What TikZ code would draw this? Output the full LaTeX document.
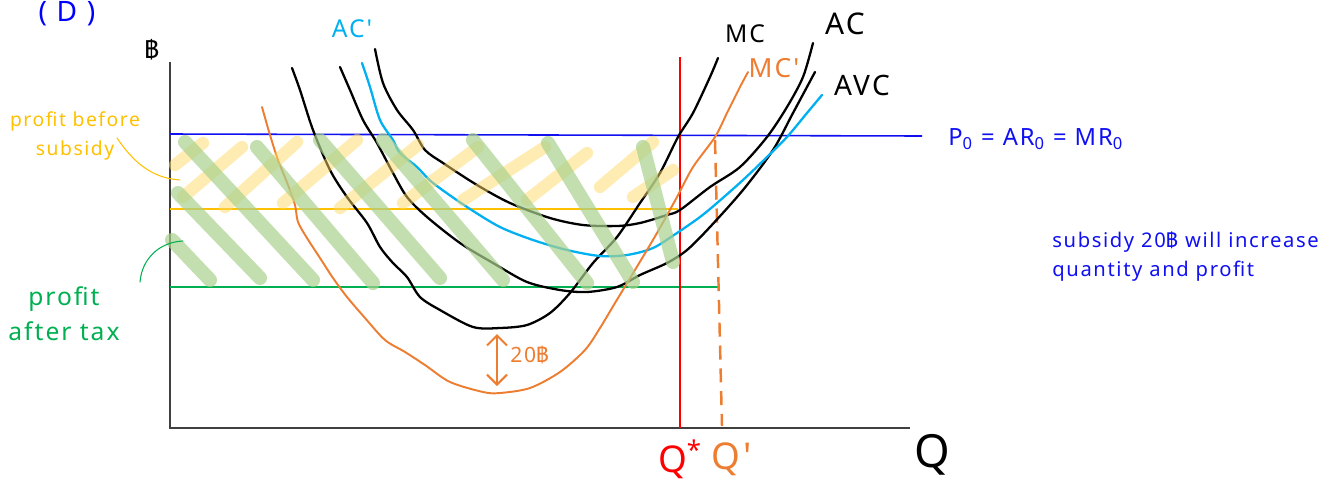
\documentclass[tikz,border=0pt]{standalone}
\usepackage{fontspec}
\setmainfont{Noto Sans}
\newfontfamily\hand[LetterSpace=8]{Noto Sans}
\newfontfamily\thaifont[Script=Thai]{Loma}
\newcommand{\baht}{{\thaifont ฿}}
\usetikzlibrary{arrows.meta}

\definecolor{pblue}{HTML}{1010F0}
\definecolor{acblue}{HTML}{00B0F0}
\definecolor{mcorange}{HTML}{ED7D31}
\definecolor{gold}{HTML}{FFC000}
\definecolor{pgreen}{HTML}{00B050}
\definecolor{hatchy}{HTML}{FFD966}
\definecolor{hatchg}{HTML}{A9D18E}
\definecolor{qred}{HTML}{FF0000}

\begin{document}
\begin{tikzpicture}[
  x=0.02cm, y=-0.02cm,
  lbl/.style={inner sep=0pt, font={\fontsize{#1}{#1}\hand}},
  axis/.style={draw=black!75, line width=1.1pt},
  cost/.style={line width=1.3pt, line join=round, line cap=round},
  level/.style={line width=1.4pt},
  hy/.style={draw=hatchy, line width=7pt, line cap=round, opacity=0.5},
  hg/.style={draw=hatchg, line width=8pt, line cap=round, opacity=0.7},
  lead/.style={line width=0.6pt, line cap=round}
]
\useasboundingbox (0,0) rectangle (1343,481);

% axes and labels
\draw[axis] (170,62) -- (170,428) -- (910,428);
\node[lbl=14] (price) at (152,50) {\baht};
\node[lbl=26] (qty) at (932,455) {Q};
\node[lbl=16, text=blue, anchor=north] (part) at (67,1) {(\ D\ )};

% price line and profit levels
\draw[pblue, line width=0.9pt] (170,134) -- (922,136);
\draw[level, gold] (170,209) -- (678,209);
\draw[level, pgreen] (170,287) -- (718,287);
\draw[qred, line width=1.4pt] (680,57) -- (680,428);
\draw[mcorange, line width=1.4pt, dash pattern=on 8pt off 5pt] (715,140) -- (722,426);

% cost curves
\draw[cost] plot[smooth, tension=0.5] coordinates {(292,68) (300,90) (313,130) (330,170) (347,197) (367,223)
  (380,247) (393,263) (407,277) (420,297) (440,310) (473,327) (500,328) (527,325) (550,313) (570,293)
  (593,263) (617,237) (640,203) (660,173) (678,137) (693,113) (710,77) (718,58)};
\draw[cost] plot[smooth, tension=0.5] coordinates {(340,67) (350,90) (363,120) (377,143) (393,173) (407,197)
  (427,217) (460,243) (493,263) (527,282) (560,290) (587,292) (617,287) (640,275) (667,263) (687,250)
  (710,227) (743,190) (773,150) (793,113) (815,72)};
\draw[cost] plot[smooth, tension=0.5] coordinates {(375,49) (383,83) (397,110) (413,130) (425,150) (443,163)
  (477,185) (510,203) (550,218) (583,225) (617,226) (640,223) (667,215) (680,210) (710,187) (740,167)
  (767,137) (787,107) (803,77) (813,43)};
\draw[cost, acblue] plot[smooth, tension=0.5] coordinates {(362,63) (370,87) (380,120) (393,140) (400,153)
  (417,167) (433,183) (467,207) (500,227) (533,240) (567,250) (600,256) (627,255) (653,248) (677,233)
  (700,217) (717,203) (743,180) (767,157) (787,137) (807,113) (822,95)};
\draw[cost, mcorange, line width=1.1pt] plot[smooth, tension=0.5] coordinates {(262,107) (270,135) (278,160)
  (288,185) (295,205) (298,222) (307,238) (320,258) (333,278) (347,297) (365,318) (385,340) (405,352)
  (425,365) (450,382) (483,392) (500,393) (530,388) (560,372) (585,350) (600,328) (615,303) (635,270)
  (657,233) (677,197) (693,167) (715,137) (727,113) (740,87) (748,72)};

% curve names
\node[lbl=14] (mc) at (745,34) {MC};
\node[lbl=17] (ac) at (845,24) {AC};
\node[lbl=16] (avc) at (862,85) {AVC};
\node[lbl=15, text=mcorange] (mcp) at (774,68) {MC'};
\node[lbl=14, text=acblue] (acp) at (352,29) {AC'};
\node[lbl=21, text=qred] (qstar) at (680,459) {Q\textsuperscript{*}};
\node[lbl=21, text=mcorange] (qprime) at (732,459) {Q'};

% subsidy gap
\coordinate (gaptop) at (497,334);
\coordinate (gapbot) at (497,386);
\draw[mcorange, line width=1.2pt, {Straight Barb[length=2mm]}-{Straight Barb[length=2mm]}] (gaptop) -- (gapbot);
\node[lbl=12, text=mcorange, anchor=west] (gap) at (510,355) {20\baht};

% hatching: profit before subsidy
\foreach \xa/\ya/\xb/\yb in {175/165/203/143, 183/197/242/147, 225/207/297/142, 283/203/357/140,
  340/208/418/145, 403/203/478/147, 463/200/545/147, 527/200/587/153, 600/187/653/142, 633/197/673/170}
  \draw[hy] (\xa,\ya) -- (\xb,\yb);
% hatching: profit after subsidy
\foreach \xa/\ya/\xb/\yb in {172/240/210/280, 178/193/260/278, 185/142/313/280, 257/147/373/283,
  320/140/440/278, 383/140/503/280, 473/140/587/283, 548/143/633/282, 643/147/673/262}
  \draw[hg] (\xa,\ya) -- (\xb,\yb);

% notes
\node[lbl=13.5, text=pblue, anchor=west] (pzero) at (948,139)
  {P\textsubscript{0} = AR\textsubscript{0} = MR\textsubscript{0}};
\node[inner sep=0pt, font={\fontsize{11.5}{17}\hand}, text=pblue, anchor=north west, align=left] (note)
  at (1052,231) {subsidy 20\baht{} will increase\\quantity and profit};
\node[inner sep=0pt, font={\fontsize{11}{16.5}\hand}, text=gold, align=center] (before) at (75,136)
  {profit before\\subsidy};
\node[inner sep=0pt, font={\fontsize{14}{20}\hand}, text=pgreen, align=center] (after) at (64,314)
  {profit\\after tax};
\draw[lead, gold] (117,138) .. controls (132,160) and (150,178) .. (180,180);
\draw[lead, pgreen] (140,282) .. controls (142,258) and (160,242) .. (183,241);

\end{tikzpicture}
\end{document}
